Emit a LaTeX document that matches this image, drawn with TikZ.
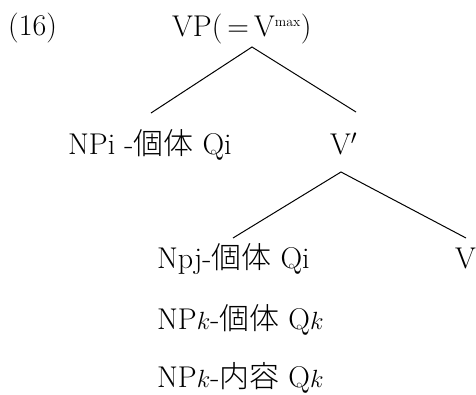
\documentclass[tikz,border=0pt]{standalone}
\usepackage{fontspec}
\newfontfamily\cjk[UprightFont=* Light]{Noto Sans CJK JP}
\begin{document}
\begin{tikzpicture}[x=1pt,y=-1pt,
  lbl/.style={anchor=base west,inner sep=0pt,font=\fontsize{30}{34}\selectfont},
  edge/.style={line width=1pt,black}]
\useasboundingbox (0,0) rectangle (476,394);
\node[lbl] (num) at (8,35) {(16)};
\node[lbl] (vp) at (172,36) {VP(\,=\,V\textsuperscript{\fontsize{14}{15}\selectfont max})};
\node[lbl] (npi) at (68,154) {NPi -{\cjk 個体} Qi};
\node[lbl] (vbar) at (330,154) {V$'$};
\node[lbl] (npj) at (157,268) {Npj-{\cjk 個体} Qi};
\node[lbl] (v) at (455,268) {V};
\node[lbl] (npk1) at (157,329) {NP$k$-{\cjk 個体} Q$k$};
\node[lbl] (npk2) at (157,387) {NP$k$-{\cjk 内容} Q$k$};
\coordinate (vpb) at (252,47);
\coordinate (npit) at (151,113);
\coordinate (vbart) at (356,112);
\coordinate (vbarb) at (341,172);
\coordinate (npjt) at (233,238);
\coordinate (vt) at (466,238);
\draw[edge] (npit) -- (vpb) -- (vbart);
\draw[edge] (npjt) -- (vbarb) -- (vt);
\end{tikzpicture}
\end{document}
